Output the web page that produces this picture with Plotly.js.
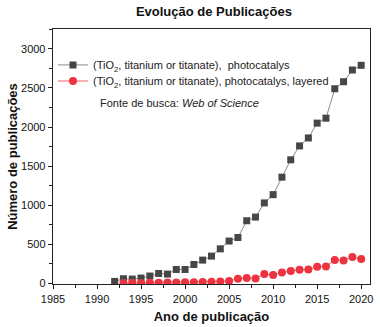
<!DOCTYPE html>
<html><head><meta charset="utf-8">
<script src="https://cdn.plot.ly/plotly-3.0.1.min.js"></script>
<style>body{margin:0;padding:0;}#chart{width:380px;height:327px;}</style>
</head><body><div id="chart"></div>
<script>
const yearsAll = [1992,1993,1994,1995,1996,1997,1998,1999,2000,2001,2002,2003,2004,2005,2006,2007,2008,2009,2010,2011,2012,2013,2014,2015,2016,2017,2018,2019,2020];
const photocatalys = [23,57,53,66,92,125,117,176,176,240,296,347,440,540,585,800,847,1028,1134,1358,1580,1758,1860,2050,2113,2490,2580,2730,2790];
const yearsLayered = [1993,1994,1995,1996,1997,1998,1999,2000,2001,2002,2003,2004,2005,2006,2007,2008,2009,2010,2011,2012,2013,2014,2015,2016,2017,2018,2019,2020];
const layered = [3,5,4,6,5,8,10,12,14,15,18,23,28,57,66,61,117,105,138,156,172,176,211,215,296,291,335,309];
const seriesNames = ['(TiO<sub>2</sub>, titanium or titanate),  photocatalys','(TiO<sub>2</sub>, titanium or titanate), photocatalys, layered'];
const xTicks = [1985,1990,1995,2000,2005,2010,2015,2020];
const yTicks = [0,500,1000,1500,2000,2500,3000];

const font = 'Liberation Sans, Arial, sans-serif';
const data = [
  {x: yearsAll, y: photocatalys, name: seriesNames[0], type: 'scatter', mode: 'lines+markers', legend: 'legend', showlegend: true,
   line: {color: '#8c8c8c', width: 1}, marker: {symbol: 'square', size: 7, color: '#464646'}},
  {x: yearsLayered, y: layered, name: seriesNames[1], type: 'scatter', mode: 'lines+markers', legend: 'legend2', showlegend: true,
   line: {color: '#f0606a', width: 1}, marker: {symbol: 'circle', size: 8, color: '#ee3340'}}
];
const axisCommon = {showgrid: false, zeroline: false, showline: true, linecolor: '#222', linewidth: 1.3,
  mirror: true, ticks: 'outside', ticklen: 4, tickcolor: '#222', tickfont: {family: font, size: 11, color: '#111'}};
const legendCommon = {x: 0.0, xanchor: 'left', yanchor: 'top', bgcolor: 'rgba(0,0,0,0)', visible: true,
    font: {family: font, size: 11, color: '#222'}, itemwidth: 30};
const layout = {
  width: 380, height: 327, showlegend: true,
  margin: {l: 53, r: 10, t: 29, b: 43},
  paper_bgcolor: '#fff', plot_bgcolor: '#fff',
  title: {text: '<b>Evolução de Publicações</b>', font: {family: font, size: 13, color: '#111'}, x: 0.563, xanchor: 'center', y: 0.965, yanchor: 'middle'},
  xaxis: Object.assign({}, axisCommon, {range: [1985, 2021], tickvals: xTicks,
    minor: {ticks: 'outside', dtick: 2.5, tick0: 1985, ticklen: 2.5, tickcolor: '#222'},
    title: {text: '<b>Ano de publicação</b>', font: {family: font, size: 13, color: '#111'}, standoff: 8}}),
  yaxis: Object.assign({}, axisCommon, {range: [-10, 3255], tickvals: yTicks,
    minor: {ticks: 'outside', dtick: 250, tick0: 0, ticklen: 2.5, tickcolor: '#222'},
    title: {text: '<b>Número de publicações</b>', font: {family: font, size: 13, color: '#111'}, standoff: 0}}),
  legend: Object.assign({}, legendCommon, {y: 0.916}),
  legend2: Object.assign({}, legendCommon, {y: 0.853}),
  annotations: [{xref: 'paper', yref: 'paper', x: 0.143, y: 0.71, xanchor: 'left', yanchor: 'middle', showarrow: false,
    text: 'Fonte de busca: <i>Web of Science</i>', font: {family: font, size: 11, color: '#222'}}]
};
Plotly.newPlot('chart', data, layout, {displayModeBar: false, staticPlot: true});
</script></body></html>
